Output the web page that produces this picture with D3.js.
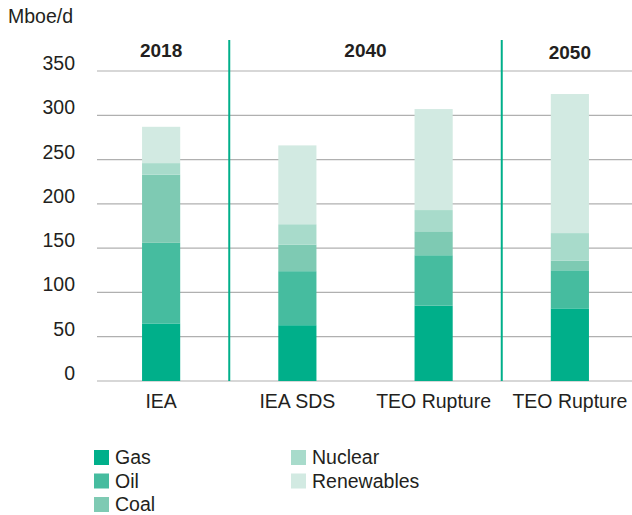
<!DOCTYPE html>
<html>
<head>
<meta charset="utf-8">
<script src="https://cdn.jsdelivr.net/npm/d3@7"></script>
<style>
  body { margin: 0; background: #fff; }
  text { font-family: "Liberation Sans", Arial, sans-serif; fill: #231f20; }
</style>
</head>
<body>
<svg id="chart" width="632" height="515"></svg>
<script>
// data (Mboe/d)
var scenarios = ["IEA", "IEA SDS", "TEO Rupture", "TEO Rupture"];
var sources = ["Gas", "Oil", "Coal", "Nuclear", "Renewables"];
var gas = [65, 63, 85, 82];
var oil = [91, 61, 57, 43];
var coal = [77, 30, 27, 11];
var nuclear = [13, 23, 24, 31];
var renewables = [41, 89, 114, 157];
var years = ["2018", "2040", "2050"];
var yearFrom = [0, 1, 3];
var yearTo = [0, 2, 3];
var yTicks = [0, 50, 100, 150, 200, 250, 300, 350];
var colors = ["#00af8a", "#46bc9f", "#7ecab3", "#a8dbcb", "#d2eae2"];

var svg = d3.select("#chart");
var margin = {top: 71, bottom: 381, left: 97, right: 632};

var rows = scenarios.map(function(s, i) {
    return {key: i, Gas: gas[i], Oil: oil[i], Coal: coal[i], Nuclear: nuclear[i], Renewables: renewables[i]};
});

var x = d3.scaleBand()
    .domain(d3.range(scenarios.length))
    .range([93, 638])
    .paddingInner(0.72)
    .paddingOuter(0.36);

var y = d3.scaleLinear()
    .domain([0, 350])
    .range([margin.bottom, margin.top]);

var color = d3.scaleOrdinal().domain(sources).range(colors);

// grid lines
svg.append("g")
    .selectAll("line")
    .data(yTicks)
    .join("line")
    .attr("x1", margin.left)
    .attr("x2", margin.right)
    .attr("y1", function(d) { return y(d); })
    .attr("y2", function(d) { return y(d); })
    .attr("stroke", "#b0b0b0")
    .attr("stroke-width", 1.2)

// y labels
svg.append("g")
    .selectAll("text")
    .data(yTicks)
    .join("text")
    .attr("x", 75)
    .attr("y", function(d) { return y(d) - 1; })
    .attr("text-anchor", "end")
    .attr("font-size", "19.5px")
    .text(function(d) { return d; })

svg.append("text")
    .attr("x", 8)
    .attr("y", 23)
    .attr("font-size", "19.5px")
    .text("Mboe/d")

// stacked bars
var stack = d3.stack().keys(sources)(rows);

svg.append("g")
    .selectAll("g")
    .data(stack)
    .join("g")
    .attr("fill", function(d) { return color(d.key); })
    .selectAll("rect")
    .data(function(d) { return d; })
    .join("rect")
    .attr("x", function(d) { return x(d.data.key); })
    .attr("width", x.bandwidth())
    .attr("y", function(d) { return y(d[1]); })
    .attr("height", function(d) { return y(d[0]) - y(d[1]); })

// separators between year groups
var seps = [0.5, 2.5];
svg.append("g")
    .selectAll("line")
    .data(seps)
    .join("line")
    .attr("x1", function(d) { return x(Math.floor(d)) + x.bandwidth() / 2 + x.step() / 2; })
    .attr("x2", function(d) { return x(Math.floor(d)) + x.bandwidth() / 2 + x.step() / 2; })
    .attr("y1", 40)
    .attr("y2", margin.bottom)
    .attr("stroke", "#00af8a")
    .attr("stroke-width", 2)

// year headers
svg.append("g")
    .selectAll("text")
    .data(years)
    .join("text")
    .attr("x", function(d, i) {
        return (x(yearFrom[i]) + x(yearTo[i]) + x.bandwidth()) / 2;
    })
    .attr("y", function(d, i) { return i == 2 ? 59 : 57; })
    .attr("text-anchor", "middle")
    .attr("font-size", "19px")
    .attr("font-weight", "bold")
    .text(function(d) { return d; })

// category labels
svg.append("g")
    .selectAll("text")
    .data(scenarios)
    .join("text")
    .attr("x", function(d, i) { return x(i) + x.bandwidth() / 2; })
    .attr("y", 408)
    .attr("text-anchor", "middle")
    .attr("font-size", "19.5px")
    .text(function(d) { return d; })

// legend
var legend = svg.append("g")
    .selectAll("g")
    .data(sources)
    .join("g")
    .attr("transform", function(d, i) {
        var col = i < 3 ? 0 : 1;
        var row = i < 3 ? i : i - 3;
        return "translate(" + (94 + col * 197) + "," + (450 + row * 23.5) + ")";
    })

legend.append("rect")
    .attr("width", 15)
    .attr("height", 15)
    .attr("fill", function(d) { return color(d); })

legend.append("text")
    .attr("x", 21)
    .attr("y", 14)
    .attr("font-size", "19.5px")
    .text(function(d) { return d; })
</script>
</body>
</html>
